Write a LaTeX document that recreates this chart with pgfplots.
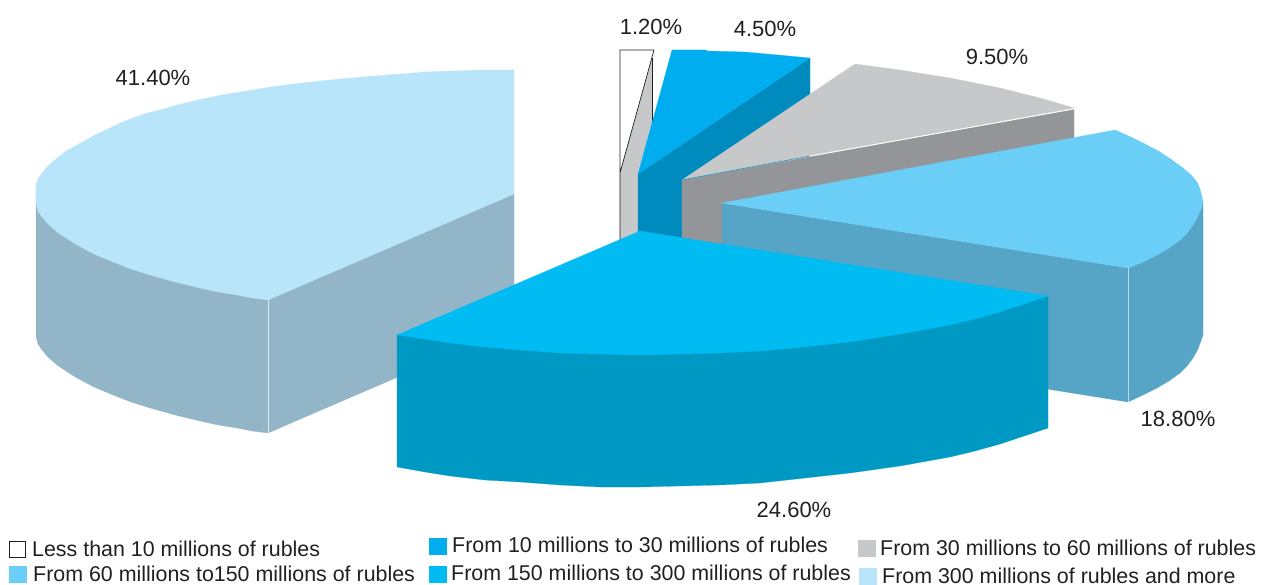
\documentclass[border=0pt]{standalone}
\usepackage{fontspec}
\setmainfont{Liberation Sans}
\usepackage{pgfplots}
\pgfplotsset{compat=1.18}
\definecolor{lightTop}{HTML}{B9E5FB}
\definecolor{lightSide}{HTML}{93B5C8}
\definecolor{mainTop}{HTML}{00BCF2}
\definecolor{mainSide}{HTML}{0099C3}
\definecolor{medTop}{HTML}{6ACEF6}
\definecolor{medSide}{HTML}{57A5C6}
\definecolor{grayTop}{HTML}{C7C8CA}
\definecolor{graySide}{HTML}{939598}
\definecolor{smallTop}{HTML}{00AEEF}
\definecolor{smallSide}{HTML}{008BBF}
\definecolor{ink}{HTML}{231F20}
\newcommand{\pct}[3]{\node[text=ink,inner sep=0pt,anchor=center,font=\fontsize{22bp}{26bp}\selectfont] at (axis cs:#1,#2) {#3};}
\newcommand{\leg}[3]{\node[text=ink,inner sep=0pt,anchor=base west,font=\fontsize{21.4bp}{25bp}\selectfont] at (axis cs:#1,#2) {#3};}
\begin{document}
\begin{tikzpicture}
\begin{axis}[
    hide axis,
    scale only axis,
    width=1269bp, height=585bp,
    xmin=0, xmax=1269,
    ymin=0, ymax=585,
    y dir=reverse,
    clip=false,
    facet/.style={draw=#1, line width=0.2pt, fill=#1, forget plot},
]
% keep the page as large as the axis
\path (axis cs:0,0) rectangle (axis cs:1269,585);

% 41.4 %
\addplot[facet=lightSide] coordinates {(36,185)(36,336)(38,344)(42,350)(48,357)(57,365)(66,371)(77,378)(94,387)(113,395)(131,402)(150,408)(175,415)(200,421)(218,425)(237,428)(252,431)(268,433)(514,327)(514,194)} --cycle;
\addplot[facet=lightTop] coordinates {(514,70)(480,70)(450,71)(425,72)(400,74)(375,76)(350,78)(320,81)(293,84)(270,87)(247,91)(227,94)(207,98)(185,103)(163,109)(147,113)(133,118)(120,123)(110,128)(93,136)(77,145)(66,151)(57,158)(48,166)(42,173)(38,179)(36,185)(36,203)(38,211)(42,217)(48,224)(57,232)(66,238)(77,245)(94,254)(113,262)(131,269)(150,275)(175,282)(200,288)(218,292)(237,295)(252,298)(268,300)(514,194)} --cycle;
\addplot[draw=white!70!lightSide, line width=0.4pt, forget plot] coordinates {(268,300)(268,433)};

% 1.2 %
\addplot[facet=grayTop] coordinates {(620,173)(652,58)(652,124)(638,173)(638,240)(620,240)} --cycle;
\addplot[draw=ink, line width=0.7pt, forget plot] coordinates {(620,240)(620,50)(654,50)(620,173)};
\addplot[draw=ink, line width=0.7pt, forget plot] coordinates {(652,58)(652,124)};

% 4.5 %
\addplot[facet=smallSide] coordinates {(638,174)(810,58)(810,95)(682,180)(682,240)(638,240)} --cycle;
\addplot[facet=smallTop] coordinates {(672,50)(705,50)(708,51)(745,52)(778,55)(810,58)(638,174)} --cycle;

% 9.5 %
\addplot[facet=graySide] coordinates {(682,180)(1074,109)(1074,140)(722,205)(722,245)(682,245)} --cycle;
\addplot[facet=grayTop] coordinates {(682,180)(855,64)(878,67)(900,70)(925,74)(950,78)(975,83)(1000,88)(1020,93)(1040,98)(1057,103)(1074,108)(810,156)} --cycle;
\addplot[draw=smallSide, line width=0.5pt, forget plot] coordinates {(682,180)(810,156)};
\addplot[draw=white, line width=0.8pt, forget plot] coordinates {(810,156)(1074,109)};

% 18.8 %
\addplot[facet=medSide] coordinates {(722,203)(1128,268)(1143,262)(1157,255)(1169,248)(1180,240)(1187,233)(1193,225)(1198,216)(1203,202)(1203,335)(1198,349)(1193,358)(1187,366)(1180,373)(1169,381)(1157,388)(1143,395)(1128,402)(722,337)} --cycle;
\addplot[facet=medTop] coordinates {(722,203)(1115,130)(1124,134)(1133,138)(1147,145)(1160,152)(1172,160)(1183,168)(1191,175)(1197,182)(1200,189)(1202,197)(1203,202)(1202,207)(1198,216)(1193,225)(1187,233)(1180,240)(1169,248)(1157,255)(1143,262)(1128,268)} --cycle;
\addplot[draw=white!60!medSide, line width=0.4pt, forget plot] coordinates {(1128,268)(1128,402)};

% 24.6 %
\addplot[facet=mainSide] coordinates {(397,335)(397,467)(425,472)(450,476)(485,480)(520,482)(560,485)(600,487)(640,487)(680,486)(720,485)(760,483)(805,478)(850,473)(900,466)(950,457)(975,451)(1000,444)(1015,439)(1030,434)(1048,428)(1048,296)} --cycle;
\addplot[facet=mainTop] coordinates {(640,231)(397,335)(425,339)(450,343)(485,347)(520,350)(560,353)(600,354)(640,355)(680,354)(720,353)(760,351)(805,347)(850,342)(900,334)(950,325)(975,319)(1000,312)(1015,307)(1030,302)(1048,296)} --cycle;

% legend swatches
\addplot[draw=ink, line width=0.6pt, fill=white, forget plot] coordinates {(9,541)(25,541)(25,557)(9,557)} --cycle;
\addplot[facet=smallTop] coordinates {(429,538)(446,538)(446,554)(429,554)} --cycle;
\addplot[facet=grayTop] coordinates {(858,540)(875,540)(875,556)(858,556)} --cycle;
\addplot[facet=medTop] coordinates {(9,566)(26,566)(26,582)(9,582)} --cycle;
\addplot[facet=mainTop] coordinates {(429,566)(446,566)(446,582)(429,582)} --cycle;
\addplot[facet=lightTop] coordinates {(859,568)(876,568)(876,584)(859,584)} --cycle;

\pct{651}{27}{1.20\%}
\pct{765}{29}{4.50\%}
\pct{997}{57}{9.50\%}
\pct{1178}{419}{18.80\%}
\pct{794}{510}{24.60\%}
\pct{153}{78}{41.40\%}

\leg{32}{556}{Less than 10 millions of rubles}
\leg{452}{552}{From 10 millions to 30 millions of rubles}
\leg{880}{555}{From 30 millions to 60 millions of rubles}
\leg{33}{581}{From 60 millions to150 millions of rubles}
\leg{451}{580}{From 150 millions to 300 millions of rubles}
\leg{882}{583}{From 300 millions of rubles and more}
\end{axis}
\end{tikzpicture}
\end{document}
